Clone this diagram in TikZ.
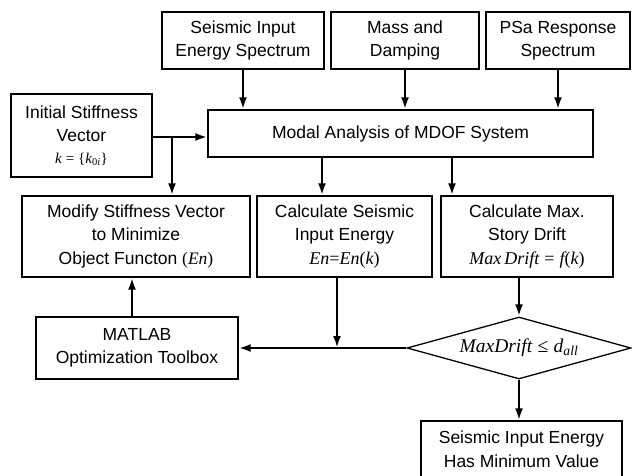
\documentclass[tikz,border=0pt]{standalone}
\usepackage{fontspec}
\setmainfont{Liberation Sans}
\newfontfamily\tmsfont{Liberation Serif}
\usetikzlibrary{arrows.meta,shapes.geometric}
\newcommand{\fml}[1]{{\tmsfont\itshape #1}}
\begin{document}
\begin{tikzpicture}[x=1pt, y=-1pt,
  box/.style={draw, line width=1.3pt, align=center, inner sep=0pt, font=\fontsize{17.5}{23.5}\selectfont},
  arr/.style={line width=2.6pt, -{Latex[length=12pt,width=8pt]}},
  lin/.style={line width=2.6pt}]
\useasboundingbox (0,0) rectangle (632,476);
% inputs on top
\node[box, minimum width=162pt, minimum height=57pt] (seis) at (243,40.5){Seismic Input\\Energy Spectrum};
\node[box, minimum width=148pt, minimum height=57pt] (mass) at (405,40.5){Mass and\\Damping};
\node[box, minimum width=144pt, minimum height=57pt] (psa) at (558,40.5){PSa Response\\Spectrum};
\node[box, minimum width=141pt, minimum height=83pt] (init) at (81.5,135.5){Initial Stiffness\\Vector\\[-2pt]{\fontsize{15}{18}\selectfont\fml{k} \tmsfont= \{\fml{k}\textsubscript{\tmsfont 0\itshape i}\}}};
\node[box, minimum width=385pt, minimum height=47pt] (modal) at (400.5,133.5){Modal Analysis of MDOF System};
% middle row
\node[box, minimum width=228pt, minimum height=81pt] (modify) at (136,236.5){Modify Stiffness Vector\\to Minimize\\Object Functon {\tmsfont(\itshape En\upshape)}};
\node[box, minimum width=175pt, minimum height=81pt] (calcen) at (344.5,236.5){Calculate Seismic\\Input Energy\\{\fontsize{18}{23.5}\selectfont\fml{En}{\tmsfont=}\fml{En}{\tmsfont(}\fml{k}{\tmsfont)}}};
\node[box, minimum width=172pt, minimum height=81pt] (calcdr) at (527,236.5){Calculate Max.\\Story Drift\\{\fontsize{18}{23.5}\selectfont\fml{Max\,Drift} {\tmsfont=} \fml{f}{\tmsfont(}\fml{k}{\tmsfont)}}};
% bottom
\node[box, minimum width=202pt, minimum height=62pt] (matlab) at (137,348){MATLAB\\Optimization Toolbox};
\node[draw, diamond, line width=1.3pt, aspect=3.6, minimum width=224pt, minimum height=62pt, inner sep=0pt, font=\fontsize{19.5}{23}\selectfont] (dia) at (519,348){\fml{MaxDrift} {\tmsfont≤} \fml{d}\textsubscript{\fml{all}}};
\node[box, minimum width=201pt, minimum height=56pt] (final) at (521.5,449){Seismic Input Energy\\Has Minimum Value};
% junctions
\coordinate (j1) at (172,137);
\coordinate (j2) at (337,348);
\draw[arr](seis) -- (seis|-modal.north);
\draw[arr](mass) -- (mass|-modal.north);
\draw[arr](psa) -- (psa|-modal.north);
\draw[lin](init.east|-j1) -- (j1);
\draw[arr](j1) -- (modal.west|-j1);
\draw[arr](j1) -- (j1|-modify.north);
\draw[arr](modal.south-|322,0) -- (calcen.north-|322,0);
\draw[arr](modal.south-|452,0) -- (calcdr.north-|452,0);
\draw[arr](calcen.south-|j2) -- (j2);
\draw[arr](calcdr.south-|dia) -- (dia.north);
\draw[arr](dia.west) -- (matlab.east);
\draw[arr](matlab.north-|132,0) -- (modify.south-|132,0);
\draw[arr](dia.south) -- (final.north-|dia);
\end{tikzpicture}
\end{document}
